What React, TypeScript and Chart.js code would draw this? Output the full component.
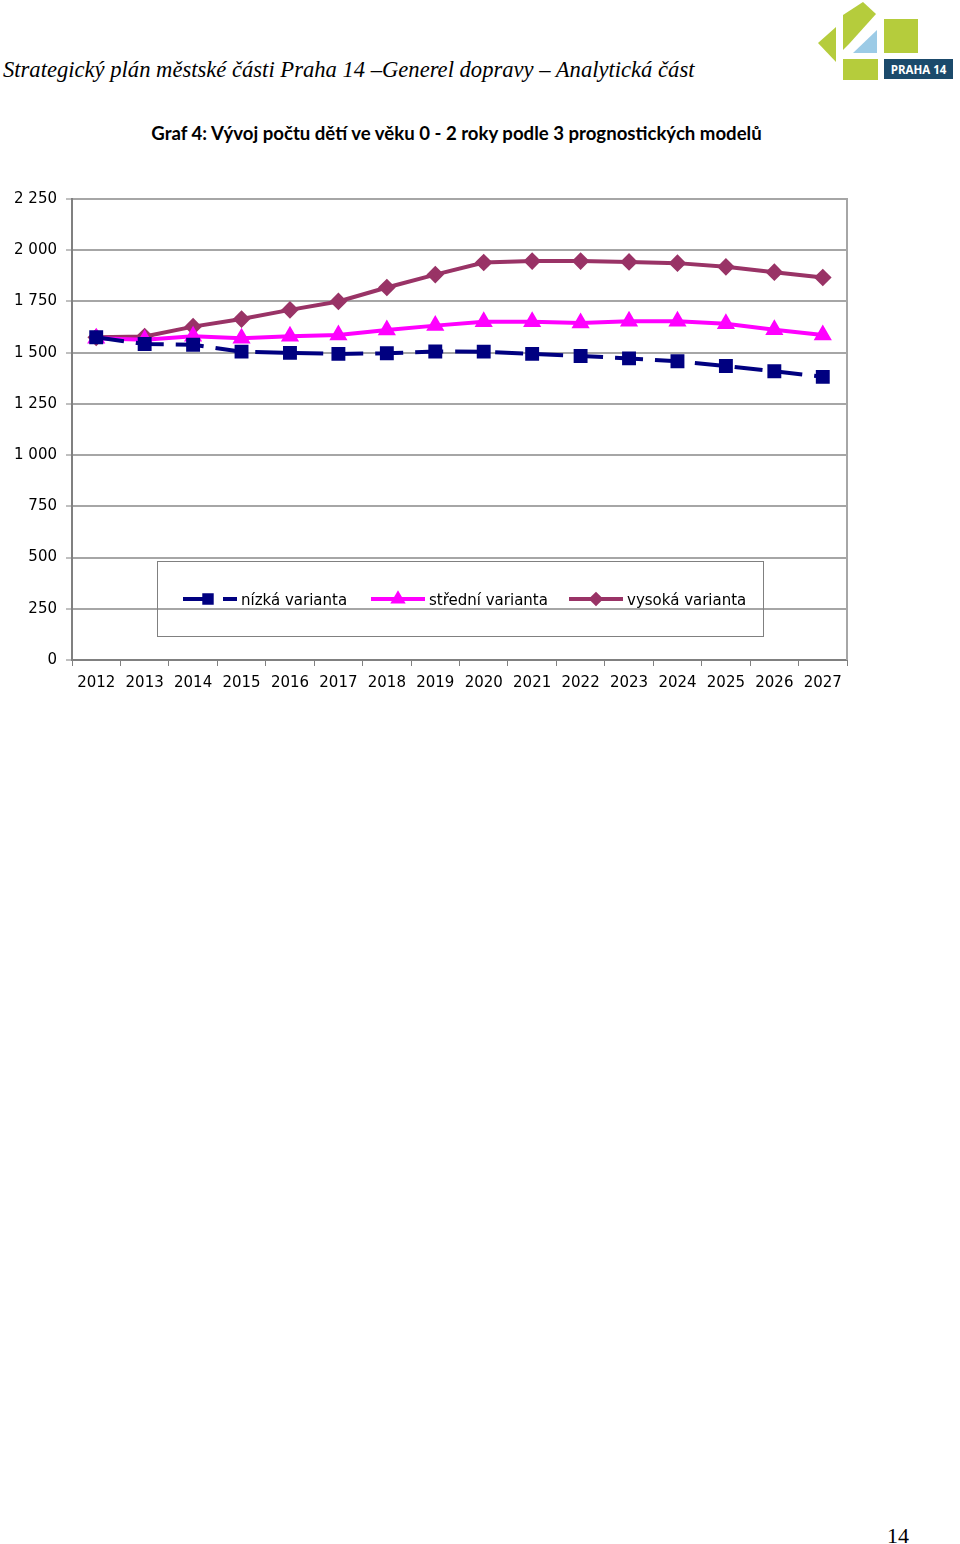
import React, { useEffect, useRef } from 'react';
import { Chart, registerables } from 'chart.js';
import { drawPoint } from 'chart.js/helpers';

Chart.register(...registerables);

// ---- data ----
const years = ['2012', '2013', '2014', '2015', '2016', '2017', '2018', '2019', '2020', '2021', '2022', '2023', '2024', '2025', '2026', '2027'];
const nizka = [1575, 1542, 1539, 1505, 1499, 1494, 1497, 1506, 1505, 1494, 1484, 1472, 1458, 1435, 1409, 1382];
const stredni = [1570, 1563, 1580, 1570, 1580, 1586, 1611, 1632, 1651, 1651, 1645, 1653, 1653, 1641, 1612, 1586];
const vysoka = [1575, 1579, 1627, 1664, 1709, 1750, 1818, 1881, 1940, 1947, 1947, 1943, 1937, 1919, 1893, 1867];
const seriesNames = ['nízká varianta', 'střední varianta', 'vysoká varianta'];
const yMin = 0;
const yMax = 2250;
const yStep = 250;

const headerText = 'Strategický plán městské části Praha 14 –Generel dopravy – Analytická část';
const titleText = 'Graf 4: Vývoj počtu dětí ve věku 0 - 2 roky podle 3 prognostických modelů';
const pageNumber = '14';

const FONT = "'DejaVu Sans', Verdana, sans-serif";

const fmt = (v: number) => String(v).replace(/\B(?=(\d{3})+(?!\d))/g, ' ');

const CANVAS_TOP = 181;
const legendEntryX = [183, 371, 569];

const framePlugin = {
  id: 'frameAndLegend',
  beforeDatasetsDraw(chart: any) {
    const { ctx, chartArea: a } = chart;
    ctx.save();
    ctx.strokeStyle = '#a6a6a6';
    ctx.lineWidth = 2;
    ctx.beginPath();
    ctx.moveTo(a.right, a.top - 1);
    ctx.lineTo(a.right, a.bottom);
    ctx.stroke();
    ctx.restore();
  },
  afterDraw(chart: any) {
    const { ctx } = chart;
    ctx.save();
    // legend box (page y 561..636)
    const top = 561 - CANVAS_TOP;
    ctx.strokeStyle = '#808080';
    ctx.lineWidth = 1;
    ctx.strokeRect(157.5, top + 0.5, 606, 75);
    const ly = 599 - CANVAS_TOP;
    chart.data.datasets.forEach((ds: any, i: number) => {
      const x0 = legendEntryX[i];
      ctx.save();
      ctx.strokeStyle = ds.borderColor;
      ctx.lineWidth = ds.borderWidth;
      ctx.setLineDash(ds.borderDash || []);
      ctx.beginPath();
      ctx.moveTo(x0, ly);
      ctx.lineTo(x0 + 54, ly);
      ctx.stroke();
      ctx.setLineDash([]);
      ctx.fillStyle = ds.pointBackgroundColor;
      ctx.strokeStyle = ds.pointBorderColor;
      drawPoint(ctx, { pointStyle: ds.pointStyle, radius: ds.pointRadius * 0.75, rotation: 0, borderWidth: 1 }, x0 + (i === 0 ? 25 : 27), ly);
      ctx.restore();
      ctx.fillStyle = '#000';
      ctx.font = `15px ${FONT}`;
      ctx.textBaseline = 'middle';
      ctx.textAlign = 'left';
      ctx.fillText(ds.label, x0 + 58, ly + 2);
    });
    ctx.restore();
  },
};

function LineChart() {
  const ref = useRef<HTMLCanvasElement>(null);
  useEffect(() => {
    if (!ref.current) return;
    const chart = new Chart(ref.current, {
      type: 'line',
      data: {
        labels: years,
        datasets: [
          {
            label: seriesNames[0],
            data: nizka,
            borderColor: '#000080',
            backgroundColor: '#000080',
            borderWidth: 4,
            borderDash: [28, 12],
            pointStyle: 'rect',
            pointRadius: 7,
            pointBackgroundColor: '#000080',
            pointBorderColor: '#000080',
            tension: 0,
          },
          {
            label: seriesNames[1],
            data: stredni,
            borderColor: '#ff00ff',
            backgroundColor: '#ff00ff',
            borderWidth: 4,
            pointStyle: 'triangle',
            pointRadius: 6.5,
            pointBackgroundColor: '#ff00ff',
            pointBorderColor: '#ff00ff',
            tension: 0,
          },
          {
            label: seriesNames[2],
            data: vysoka,
            borderColor: '#993366',
            backgroundColor: '#993366',
            borderWidth: 4,
            pointStyle: 'rectRot',
            pointRadius: 6,
            pointBackgroundColor: '#993366',
            pointBorderColor: '#993366',
            tension: 0,
          },
        ],
      },
      options: {
        responsive: false,
        animation: false,
        devicePixelRatio: 1,
        layout: { padding: { top: 13, right: 23, left: 0, bottom: 0 } },
        plugins: {
          legend: { display: false },
          tooltip: { enabled: false },
          title: { display: false },
        },
        scales: {
          x: {
            offset: true,
            grid: {
              display: true,
              drawOnChartArea: false,
              drawTicks: true,
              tickLength: 6,
              color: '#808080',
              lineWidth: 1,
              offset: true,
            },
            border: { display: true, color: '#808080', width: 2 },
            ticks: {
              font: { family: FONT, size: 15 },
              color: '#000',
              padding: 8,
              maxRotation: 0,
              autoSkip: false,
            },
            afterFit: (s: any) => {
              s.height = 45;
            },
          },
          y: {
            min: yMin,
            max: yMax,
            ticks: {
              stepSize: yStep,
              callback: (v: any) => fmt(Number(v)),
              font: { family: FONT, size: 15 },
              color: '#000',
              padding: 9,
            },
            grid: {
              color: '#a6a6a6',
              lineWidth: 2,
              tickLength: 6,
              drawTicks: true,
              tickColor: '#808080',
              tickWidth: 1,
            },
            border: { display: true, color: '#808080', width: 2 },
            afterFit: (s: any) => {
              s.width = 72;
            },
          },
        },
      },
      plugins: [framePlugin],
    });
    return () => chart.destroy();
  }, []);
  return (
    <canvas
      ref={ref}
      width={870}
      height={524}
      style={{ position: 'absolute', left: 0, top: CANVAS_TOP, width: 870, height: 524 }}
    />
  );
}

function Logo() {
  const green = '#b5cc3c';
  return (
    <svg width={160} height={90} style={{ position: 'absolute', left: 800, top: 0 }} viewBox="800 0 160 90">
      <polygon points="818,43 836,27 836,62" fill={green} />
      <polygon points="843,15 863,2 876,14 849,44 843,50" fill={green} />
      <polygon points="853,53 877,30 877,53" fill="#9ccbe6" />
      <rect x={884} y={19} width={34} height={34} fill={green} />
      <rect x={843} y={59} width={35} height={21} fill={green} />
      <rect x={884} y={59} width={69} height={20} fill="#1b4a6b" />
      <text x={918.5} y={74} textAnchor="middle" fill="#fff" fontFamily="'Open Sans', 'DejaVu Sans', sans-serif" fontWeight="bold" fontSize={11.5}>
        PRAHA 14
      </text>
    </svg>
  );
}

export default function App() {
  return (
    <div style={{ position: 'absolute', left: 0, top: 0, width: 960, height: 1544, background: '#fff', overflow: 'hidden' }}>
      <div
        style={{
          position: 'absolute',
          left: 3,
          top: 59,
          fontFamily: "'Liberation Serif', 'DejaVu Serif', serif",
          fontStyle: 'italic',
          fontSize: 22.6,
          lineHeight: 1,
          whiteSpace: 'nowrap',
          color: '#000',
        }}
      >
        {headerText}
      </div>
      <Logo />
      <div
        style={{
          position: 'absolute',
          left: 0,
          width: 913,
          top: 124,
          textAlign: 'center',
          fontFamily: "Lato, 'Noto Sans', sans-serif",
          fontWeight: 'bold',
          fontSize: 18.6,
          lineHeight: 1,
          whiteSpace: 'nowrap',
          color: '#000',
        }}
      >
        {titleText}
      </div>
      <LineChart />
      <div
        style={{
          position: 'absolute',
          left: 887,
          top: 1525,
          fontFamily: "'Liberation Serif', 'DejaVu Serif', serif",
          fontSize: 22,
          lineHeight: 1,
          color: '#000',
        }}
      >
        {pageNumber}
      </div>
    </div>
  );
}
